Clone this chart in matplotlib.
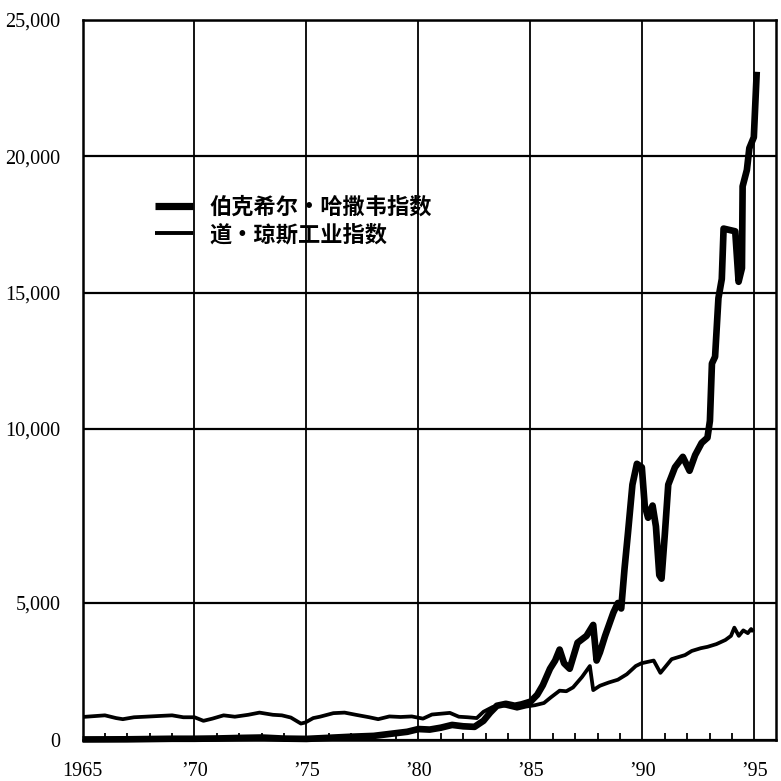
import numpy as np
import matplotlib
matplotlib.use('Agg')
import matplotlib.pyplot as plt
from matplotlib.ticker import FixedLocator, FixedFormatter, MultipleLocator

# ---------------- data ----------------
brk_years = [1965.0, 1966.0, 1967.0, 1968.0, 1969.0, 1970.0, 1971.0, 1972.0, 1973.0, 1974.0,
             1975.0, 1976.0, 1977.0, 1978.0, 1979.0, 1979.5, 1980.0, 1980.5, 1981.0, 1981.5,
             1982.0, 1982.5, 1982.9, 1983.2, 1983.5, 1983.9, 1984.3, 1984.6, 1985.0, 1985.3,
             1985.55, 1985.87, 1986.1, 1986.3, 1986.5, 1986.75, 1987.1, 1987.5, 1987.8, 1987.95,
             1988.1, 1988.33, 1988.7, 1988.9, 1989.05, 1989.2, 1989.35, 1989.55, 1989.75, 1989.97,
             1990.1, 1990.25, 1990.45, 1990.6, 1990.75, 1990.85, 1991.0, 1991.15, 1991.45, 1991.8,
             1992.1, 1992.35, 1992.64, 1992.9, 1993.01, 1993.1, 1993.24, 1993.39, 1993.54, 1993.62,
             1994.14, 1994.29, 1994.44, 1994.47, 1994.66, 1994.77, 1994.97, 1995.1]
brk_values = [20, 22, 25, 35, 45, 45, 55, 75, 90, 50,
              40, 80, 120, 150, 250, 300, 400, 380, 450, 550,
              500, 480, 700, 1000, 1250, 1320, 1250, 1300, 1400, 1650,
              2000, 2600, 2900, 3300, 2800, 2600, 3550, 3800, 4200, 2900,
              3200, 3800, 4650, 5000, 4800, 6000, 7000, 8400, 9000, 8900,
              7800, 7450, 7800, 7200, 5800, 5700, 7000, 8400, 8900, 9200,
              8800, 9250, 9600, 9750, 10300, 12400, 12650, 14800, 15500, 17350,
              17250, 15400, 15900, 18900, 19500, 20300, 20700, 23100]

dow_years = [1965.0, 1965.5, 1966.0, 1966.5, 1966.8, 1967.3, 1967.8, 1968.5, 1969.0, 1969.5,
             1970.0, 1970.4, 1970.8, 1971.3, 1971.8, 1972.4, 1972.9, 1973.5, 1973.9, 1974.3,
             1974.75, 1974.95, 1975.3, 1975.6, 1976.2, 1976.7, 1977.2, 1977.8, 1978.2, 1978.7,
             1979.2, 1979.7, 1980.2, 1980.6, 1981.0, 1981.4, 1981.8, 1982.2, 1982.6, 1982.9,
             1983.3, 1983.7, 1984.0, 1984.4, 1984.8, 1985.2, 1985.6, 1985.9, 1986.3, 1986.6,
             1986.9, 1987.3, 1987.65, 1987.8, 1988.1, 1988.5, 1988.9, 1989.3, 1989.7, 1989.95,
             1990.5, 1990.8, 1991.0, 1991.3, 1991.9, 1992.2, 1992.6, 1992.9, 1993.3, 1993.7,
             1993.95, 1994.1, 1994.3, 1994.5, 1994.7, 1994.85, 1994.95]
dow_values = [840, 870, 900, 800, 760, 830, 850, 880, 900, 830,
              830, 700, 780, 900, 850, 920, 1000, 920, 900, 820,
              600, 640, 800, 850, 980, 1000, 920, 830, 760, 860,
              840, 860, 780, 930, 960, 990, 850, 830, 800, 1030,
              1200, 1280, 1220, 1140, 1220, 1270, 1350, 1550, 1800, 1780,
              1920, 2300, 2700, 1820, 1980, 2100, 2200, 2400, 2700, 2800,
              2900, 2450, 2650, 2950, 3100, 3250, 3350, 3400, 3500, 3650,
              3800, 4100, 3800, 4000, 3900, 4050, 3950]

x_ticks = [1965, 1970, 1975, 1980, 1985, 1990, 1995]
x_tick_labels = ['1965', '\u201970', '\u201975', '\u201980', '\u201985', '\u201990', '\u201995']
y_ticks = [0, 5000, 10000, 15000, 20000, 25000]
y_tick_labels = ['0', '5,000', '10,000', '15,000', '20,000', '25,000']
series_labels = ['伯克希尔·哈撒韦指数', '道·琼斯工业指数']

# ---------------- piecewise-linear vertical scale (as printed) ----------------
_V = np.array([-1e6, 0, 5000, 10000, 25000, 1e6])
_P = np.array([-1e6 * 137 / 5000, 0, 137, 311, 720, 720 + (1e6 - 25000) * 409 / 15000])

def _fwd(v):
    return np.interp(np.asarray(v, float), _V, _P)

def _inv(p):
    return np.interp(np.asarray(p, float), _P, _V)

# ---------------- figure ----------------
W = H = 781
fig = plt.figure(figsize=(W / 100, H / 100), dpi=100)
ax = fig.add_axes([82.5 / W, 41 / H, (776 - 82.5) / W, 720 / H])
ax.set_yscale('function', functions=(_fwd, _inv))

ax.plot(brk_years, brk_values, color='black', lw=4.8, solid_capstyle='butt',
        label=series_labels[0], clip_on=False, zorder=4)
ax.plot(dow_years, dow_values, color='black', lw=2.7, solid_capstyle='butt',
        label=series_labels[1], zorder=3)

ax.set_xlim(1965, 1995.96)
ax.set_ylim(0, 25000)

serif = 'Liberation Serif'
ax.xaxis.set_major_locator(FixedLocator(x_ticks))
ax.xaxis.set_major_formatter(FixedFormatter(x_tick_labels))
ax.xaxis.set_minor_locator(MultipleLocator(1))
ax.yaxis.set_major_locator(FixedLocator(y_ticks))
ax.yaxis.set_major_formatter(FixedFormatter(y_tick_labels))
ax.yaxis.set_minor_locator(FixedLocator([]))

ax.tick_params(axis='x', which='major', length=0, pad=16)
ax.tick_params(axis='x', which='minor', direction='in', length=5, width=1.3, color='black')
ax.tick_params(axis='y', which='major', length=0, pad=16)
for lab in ax.get_xticklabels() + ax.get_yticklabels():
    lab.set_fontfamily(serif)
    lab.set_fontsize(14.5)
    lab.set_color('black')

ax.grid(True, which='major', axis='y', color='black', lw=1.6)
ax.grid(True, which='major', axis='x', color='black', lw=1.3)
ax.set_axisbelow(True)
for s in ax.spines.values():
    s.set_color('black')
    s.set_linewidth(1.8)

leg = ax.legend(loc='upper left', bbox_to_anchor=(155 / W, 1 - 196 / H),
                bbox_transform=fig.transFigure, frameon=False,
                handlelength=1.7, handletextpad=0.75, labelspacing=0.18,
                borderpad=0, borderaxespad=0,
                prop={'family': ['Noto Sans CJK SC', 'DejaVu Sans'], 'weight': 'bold', 'size': 16})
leg.legend_handles[0].set_linewidth(5.2)
leg.legend_handles[1].set_linewidth(2.8)

fig.savefig('out.png', dpi=100, facecolor='white')
